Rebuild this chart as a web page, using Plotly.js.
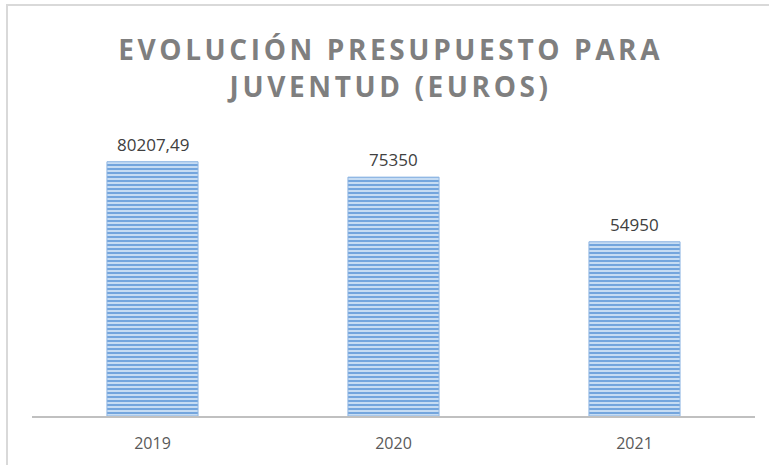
<!DOCTYPE html>
<html>
<head>
<meta charset="utf-8">
<script src="https://cdn.plot.ly/plotly-3.0.1.min.js"></script>
<style>
html,body{margin:0;padding:0;background:#fff;}
#frame{position:absolute;left:6px;top:4px;width:800px;height:500px;border-left:2px solid #d9d9d9;border-top:2px solid #d9d9d9;}
#chart{position:absolute;left:0;top:0;width:769px;height:465px;}
</style>
</head>
<body>
<div id="frame"></div>
<div id="chart"></div>
<script>
const years = [2019, 2020, 2021];
const yearLabels = ["2019", "2020", "2021"];
const values = [80207.49, 75350, 54950];
const labels = ["80207,49", "75350", "54950"];
const titleLines = ["EVOLUCIÓN PRESUPUESTO PARA", "JUVENTUD (EUROS)"];

const trace = {
  type: "bar",
  x: years,
  y: values,
  marker: {
    color: "#b9d4f0",
    line: {color: "#8fb6e3", width: 1},
    pattern: {shape: "-", fgcolor: "#6a9fdb", bgcolor: "#c6dcf3", size: 4, solidity: 0.45}
  },
  hoverinfo: "none"
};

const annotations = years.map((yr, i) => ({
  x: yr, y: values[i], text: labels[i], showarrow: false,
  yanchor: "bottom", yshift: 4,
  font: {family: "Open Sans, Liberation Sans, sans-serif", size: 17, color: "#404040"}
}));

const layout = {
  width: 769, height: 465,
  margin: {l: 32, r: 14, t: 99, b: 49},
  paper_bgcolor: "rgba(0,0,0,0)",
  plot_bgcolor: "rgba(0,0,0,0)",
  bargap: 0.622,
  showlegend: false,
  title: {
    text: titleLines.map(s => '<span style="letter-spacing:3.6px">' + s + '</span>').join("<br>"),
    x: 0.508, xanchor: "center", y: 0.87, yanchor: "top",
    font: {family: "Open Sans, Liberation Sans, sans-serif", size: 28, color: "#7f7f7f", weight: 700}
  },
  xaxis: {
    range: [years[0] - 0.5, years[years.length - 1] + 0.5],
    tickmode: "array", tickvals: years, ticktext: yearLabels,
    showline: true, linecolor: "#c0c0c0", linewidth: 2,
    showgrid: false, zeroline: false, ticks: "",
    ticklabelstandoff: 12,
    tickfont: {family: "Open Sans, Liberation Sans, sans-serif", size: 16, color: "#595959"}
  },
  yaxis: {
    range: [0, 100000], visible: false, showgrid: false, zeroline: false
  },
  annotations: annotations
};

Plotly.newPlot("chart", [trace], layout, {displayModeBar: false, staticPlot: true});
</script>
</body>
</html>
